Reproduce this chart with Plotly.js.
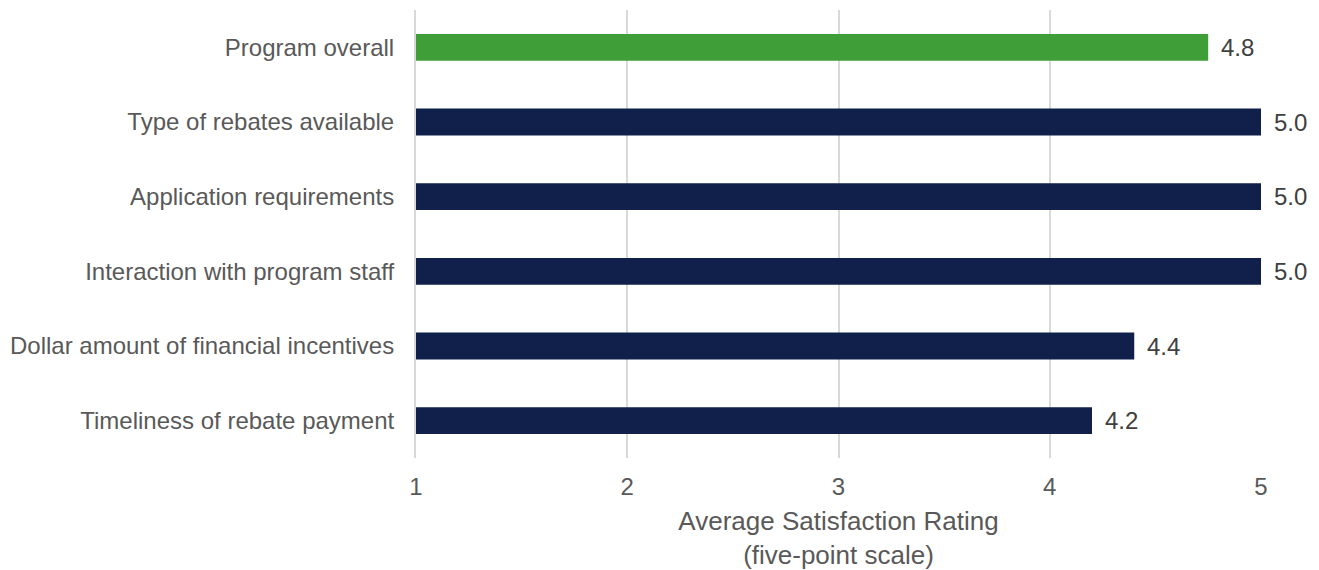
<!DOCTYPE html>
<html>
<head>
<meta charset="utf-8">
<script src="https://cdn.plot.ly/plotly-3.0.1.min.js"></script>
<style>html,body{margin:0;padding:0;background:#fff;}#chart{width:1319px;height:570px;}</style>
</head>
<body>
<div id="chart"></div>
<script>
var categories = [
  "Program overall",
  "Type of rebates available",
  "Application requirements",
  "Interaction with program staff",
  "Dollar amount of financial incentives",
  "Timeliness of rebate payment"
];
var ratings = [4.75, 5.0, 5.0, 5.0, 4.4, 4.2];
var valueLabels = ["4.8", "5.0", "5.0", "5.0", "4.4", "4.2"];
var barColors = ["#3F9E37", "#10204A", "#10204A", "#10204A", "#10204A", "#10204A"];
var xTicks = [1, 2, 3, 4, 5];
var xTitle = "Average Satisfaction Rating<br>(five-point scale)";

var FONT = "Liberation Sans, Arial, sans-serif";

var trace = {
  type: "bar",
  orientation: "h",
  y: categories,
  x: ratings.map(function (v) { return v - 1; }),
  base: 1,
  width: 0.36,
  marker: { color: barColors },
  hoverinfo: "skip"
};

var annotations = categories.map(function (c, i) {
  return {
    x: ratings[i], y: c, xref: "x", yref: "y",
    text: valueLabels[i], showarrow: false,
    xanchor: "left", yanchor: "middle", xshift: 11,
    font: { family: FONT, size: 24, color: "#404040" }
  };
});

var layout = {
  width: 1319, height: 570,
  margin: { l: 416, r: 58, t: 10, b: 112 },
  paper_bgcolor: "#ffffff", plot_bgcolor: "#ffffff",
  showlegend: false,
  font: { family: FONT, color: "#595959" },
  xaxis: {
    range: [1, 5],
    tickvals: xTicks,
    ticktext: xTicks.map(String),
    showgrid: true, gridcolor: "#D9D9D9", gridwidth: 2,
    zeroline: false, showline: false, ticks: "",
    ticklabelstandoff: 12,
    tickfont: { family: FONT, size: 24, color: "#595959" },
    title: { text: xTitle, font: { family: FONT, size: 26, color: "#595959" }, standoff: 12 }
  },
  yaxis: {
    type: "category",
    categoryorder: "array",
    categoryarray: categories,
    autorange: "reversed",
    showgrid: false, zeroline: false,
    showline: true, linecolor: "#D9D9D9", linewidth: 2,
    ticks: "",
    ticklabelstandoff: 15,
    tickfont: { family: FONT, size: 24, color: "#595959" }
  },
  annotations: annotations,
  bargap: 0.64
};

Plotly.newPlot("chart", [trace], layout, { displayModeBar: false, staticPlot: true });
</script>
</body>
</html>
